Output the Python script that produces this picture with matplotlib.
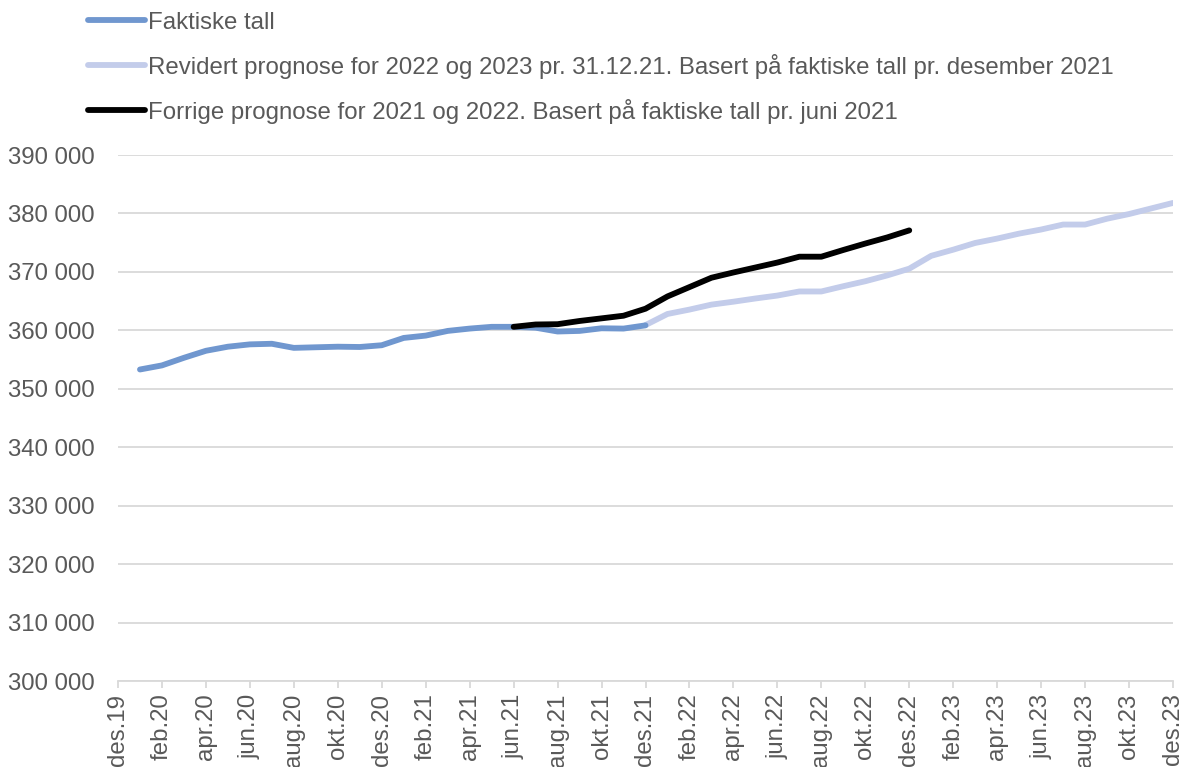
import matplotlib.pyplot as plt

# Månedsetiketter (des.19 - des.23)
maaneder = ["jan", "feb", "mar", "apr", "mai", "jun", "jul", "aug", "sep", "okt", "nov", "des"]
etiketter = ["des.19"] + [f"{m}.{aar}" for aar in ["20", "21", "22", "23"] for m in maaneder]

# Faktiske tall: jan.20 - des.21
faktiske = [353300, 354000, 355300, 356500, 357200, 357600, 357700, 357000, 357100, 357200,
            357150, 357450, 358700, 359100, 359900, 360300, 360600, 360600, 360450, 359800,
            359900, 360350, 360300, 360850]
# Revidert prognose: des.21 - des.23
revidert = [360900, 362800, 363550, 364400, 364900, 365450, 365950, 366650, 366650, 367550,
            368400, 369400, 370550, 372750, 373800, 374950, 375700, 376550, 377250, 378100,
            378100, 379100, 379900, 380850, 381800]
# Forrige prognose: jun.21 - des.22
forrige = [360600, 361000, 361050, 361600, 362050, 362500, 363700, 365800, 367400, 369000,
           369900, 370750, 371600, 372600, 372600, 373750, 374850, 375900, 377100]

x_faktiske = list(range(1, 1 + len(faktiske)))
x_revidert = list(range(24, 24 + len(revidert)))
x_forrige = list(range(18, 18 + len(forrige)))

plt.rcParams["font.family"] = ["Liberation Sans", "DejaVu Sans"]
fs = 17.3
grey = "#595959"

fig = plt.figure(figsize=(11.84, 7.67), dpi=100)
ax = fig.add_axes([118 / 1184, 1 - 681 / 767, (1173 - 118) / 1184, (681 - 155) / 767])

l1, = ax.plot(x_faktiske, faktiske, color="#7097CF", lw=4.2, solid_capstyle="round", zorder=3)
l2, = ax.plot(x_revidert, revidert, color="#C3CCEA", lw=4.2, solid_capstyle="round", zorder=2)
l3, = ax.plot(x_forrige, forrige, color="black", lw=4.2, solid_capstyle="round", zorder=4)

ax.set_xlim(0, 48)
ax.set_ylim(300000, 390000)
ax.set_yticks(range(300000, 390001, 10000))
ax.set_yticklabels([f"{v // 1000} 000" for v in range(300000, 390001, 10000)])
ax.set_xticks(range(0, 49, 2))
ax.set_xticklabels(etiketter[::2], rotation=90)

ax.grid(axis="y", color="#D9D9D9", lw=1.3)
ax.set_axisbelow(True)
for s in ["left", "right", "top"]:
    ax.spines[s].set_visible(False)
ax.spines["bottom"].set_color("#D9D9D9")
ax.spines["bottom"].set_linewidth(1.3)
ax.tick_params(axis="x", colors="#D9D9D9", length=5, width=1.3, labelcolor=grey, labelsize=fs, pad=4)
ax.tick_params(axis="y", length=0, labelcolor=grey, labelsize=fs, pad=16.5)

fig.legend([l1, l2, l3],
           ["Faktiske tall",
            "Revidert prognose for 2022 og 2023 pr. 31.12.21. Basert på faktiske tall pr. desember 2021",
            "Forrige prognose for 2021 og 2022. Basert på faktiske tall pr. juni 2021"],
           loc="upper left", bbox_to_anchor=(66 / 1184, 1 + 10 / 767), frameon=False,
           fontsize=fs, labelcolor=grey, handlelength=2.4, handletextpad=0.12,
           labelspacing=0.83)

fig.savefig("out.png", dpi=100)
